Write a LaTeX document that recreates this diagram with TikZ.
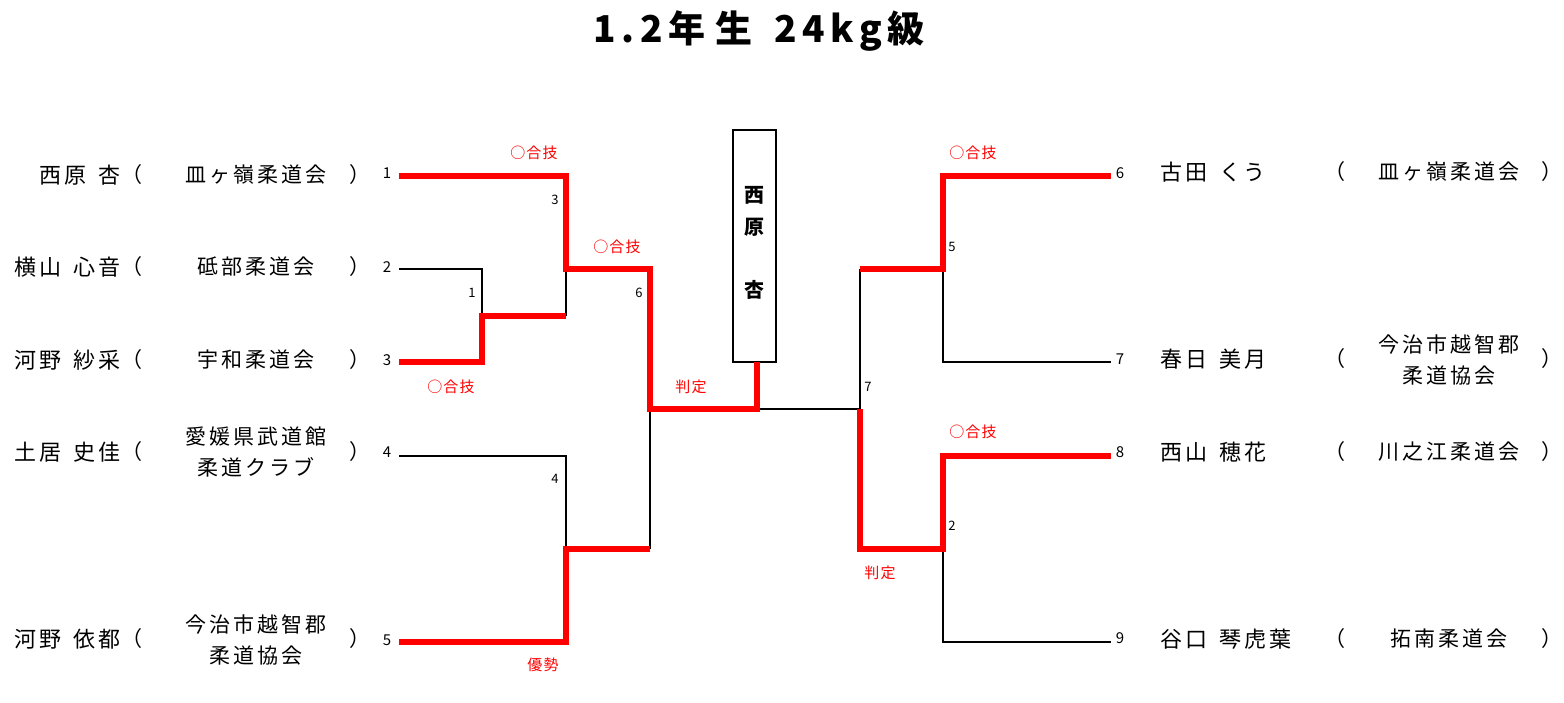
\documentclass[tikz,border=0pt]{standalone}
\usepackage{fontspec}
\newfontfamily\jp{Noto Sans CJK JP}[LetterSpace=14]
\newfontfamily\jpt{Noto Sans CJK JP}[LetterSpace=15]
\newfontfamily\jps{Noto Sans CJK JP}[LetterSpace=8]
\newfontfamily\jpn{Noto Sans CJK JP}
\newcommand\gapw{\hspace{12pt}}
\begin{document}
\begin{tikzpicture}[x=1pt,y=-1pt,
 every node/.style={inner sep=0pt, outer sep=0pt},
 pname/.style={font={\jp\fontsize{22}{26}\selectfont}},
 club/.style={font={\jp\fontsize{21}{31}\selectfont}, align=center},
 paren/.style={font={\jpn\fontsize{21}{26}\selectfont}},
 seed/.style={font={\jpn\fontsize{15}{16}\selectfont}},
 rnd/.style={font={\jpn\fontsize{13}{16}\selectfont}},
 res/.style={font={\jps\fontsize{15}{18}\selectfont}, text=red},
 boxch/.style={font={\jpn\bfseries\fontsize{20}{24}\selectfont}},
 win/.style={red, line width=5.5pt, line join=miter},
 lose/.style={black, line width=1.2pt},
]
\fill[white] (0,0) rectangle (1564,702);
\useasboundingbox (0,0) rectangle (1564,702);

% title
\node[font={\jpt\bfseries\fontsize{37}{40}\selectfont}] (title) at (759,31) {1.2年\hspace{10pt}生\hspace{22pt}24kg級};

% coordinates
\coordinate (e1) at (399,176);
\coordinate (e2) at (399,269);
\coordinate (e3) at (399,362);
\coordinate (e4) at (399,456);
\coordinate (e5) at (399,642);
\coordinate (e6) at (1111,176);
\coordinate (e7) at (1111,362);
\coordinate (e8) at (1111,456);
\coordinate (e9) at (1111,642);
\coordinate (m1) at (482,316);
\coordinate (m3) at (566,269);
\coordinate (m4) at (566,549);
\coordinate (m6) at (650,409);
\coordinate (m7) at (860,409);
\coordinate (m5) at (943,269);
\coordinate (m2) at (943,549);

% winner box
\node[draw, line width=1.2pt, minimum width=43pt, minimum height=232pt] (winner) at (754.5,246) {};
\coordinate (fin) at ([xshift=2.5pt]winner.south);
\node[boxch] (w1) at (754,195) {西};
\node[boxch] (w2) at (754,227) {原};
\node[boxch] (w3) at (754,290) {杏};

% losing lines
\draw[lose] (e2) -| (m1);
\draw[lose] (m3) -- (m1 -| m3);
\draw[lose] (e4) -| (m4);
\draw[lose] (m6) -- (m4 -| m6);
\draw[lose] (m6 -| fin) -- (m7) -- (m5 -| m7);
\draw[lose] (e7) -| (m5);
\draw[lose] (e9) -| (m2);

% winning lines
\draw[win] (e1) -| (m3) -| (m6) -| (fin);
\draw[win] (e3) -| (m1) -- (m1 -| m3);
\draw[win] (e5) -| (m4) -- (m4 -| m6);
\draw[win] (e6) -| (m5) -- (m5 -| m7);
\draw[win] (e8) -| (m2) -- (m2 -| m7) -- (m7);

% seed numbers
\node[seed] (s1) at (387,173) {1};
\node[seed] (s2) at (387,267) {2};
\node[seed] (s3) at (387,360) {3};
\node[seed] (s4) at (387,452) {4};
\node[seed] (s5) at (387,640) {5};
\node[seed] (s6) at (1120,173) {6};
\node[seed] (s7) at (1120,359) {7};
\node[seed] (s8) at (1120,452) {8};
\node[seed] (s9) at (1120,638) {9};

% match numbers
\node[rnd] (b1) at (472,293) {1};
\node[rnd] (b3) at (555,200) {3};
\node[rnd] (b6) at (639,293) {6};
\node[rnd] (b4) at (555,479) {4};
\node[rnd] (b5) at (952,247) {5};
\node[rnd] (b7) at (868,387) {7};
\node[rnd] (b2) at (952,526) {2};

% results
\node[res] (r1) at (534,153) {○合技};
\node[res] (r2) at (617,247) {○合技};
\node[res] (r3) at (451,387) {○合技};
\node[res] (r4) at (691,387) {判定};
\node[res] (r5) at (543,665) {優勢};
\node[res] (r6) at (973,153) {○合技};
\node[res] (r7) at (973,432) {○合技};
\node[res] (r8) at (880,573) {判定};

% left names
\node[pname, anchor=east] (n1) at (121,175) {西原\gapw 杏};
\node[pname, anchor=east] (n2) at (121,267) {横山\gapw 心音};
\node[pname, anchor=east] (n3) at (121,360) {河野\gapw 紗采};
\node[pname, anchor=east] (n4) at (121,452) {土居\gapw 史佳};
\node[pname, anchor=east] (n5) at (121,639) {河野\gapw 依都};
\foreach \y/\i in {175/1,267/2,360/3,452/4,639/5}{
  \node[paren] (lo\i) at (132,\y) {（};
  \node[paren] (lc\i) at (360,\y) {）};
}
\node[club] (c1) at (256,175) {皿ヶ嶺柔道会};
\node[club] (c2) at (256,267) {砥部柔道会};
\node[club] (c3) at (256,360) {宇和柔道会};
\node[club] (c4) at (256,452) {愛媛県武道館\\柔道クラブ};
\node[club] (c5) at (256,640) {今治市越智郡\\柔道協会};

% right names
\node[pname, anchor=west] (n6) at (1160,172) {古田\gapw くう};
\node[pname, anchor=west] (n7) at (1160,359) {春日\gapw 美月};
\node[pname, anchor=west] (n8) at (1160,452) {西山\gapw 穂花};
\node[pname, anchor=west] (n9) at (1160,639) {谷口\gapw 琴虎葉};
\foreach \y/\i in {172/6,359/7,452/8,639/9}{
  \node[paren] (ro\i) at (1335,\y) {（};
  \node[paren] (rc\i) at (1552,\y) {）};
}
\node[club] (c6) at (1449,172) {皿ヶ嶺柔道会};
\node[club] (c7) at (1449,359.5) {今治市越智郡\\柔道協会};
\node[club] (c8) at (1449,452) {川之江柔道会};
\node[club] (c9) at (1449,639) {拓南柔道会};
\end{tikzpicture}
\end{document}
